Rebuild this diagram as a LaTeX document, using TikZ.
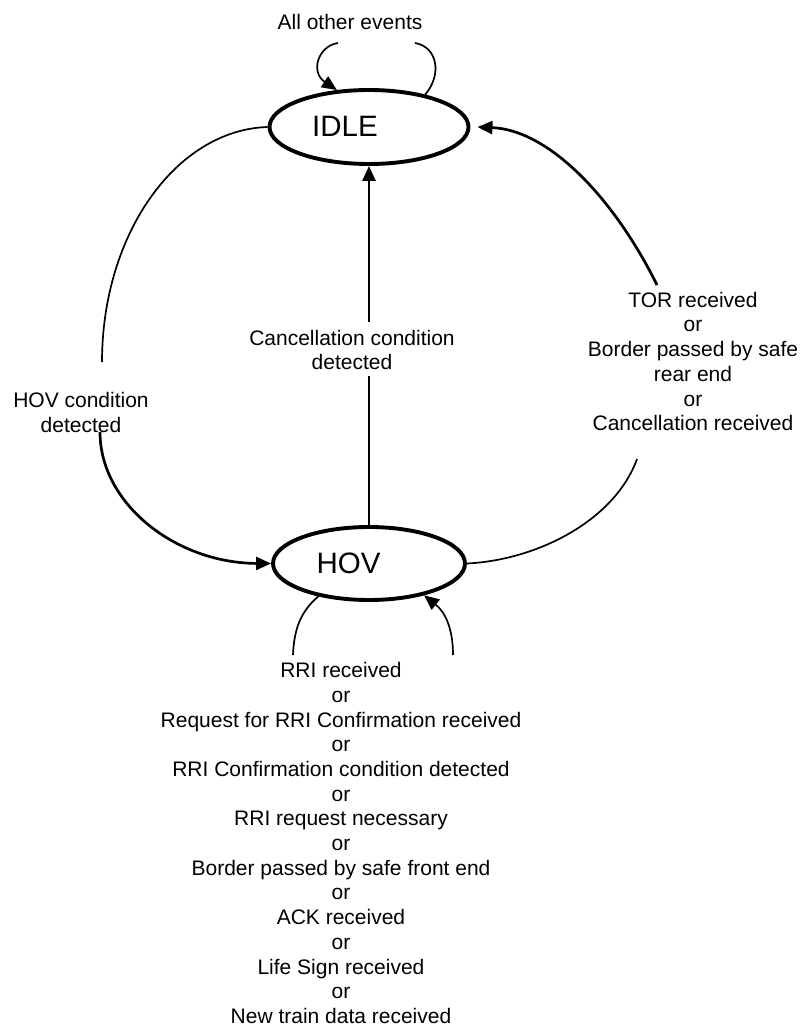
\documentclass[tikz,border=0pt]{standalone}
\usepackage{fontspec}
\setmainfont{Liberation Sans}
\usetikzlibrary{shapes.geometric,arrows.meta}
\begin{document}
\begin{tikzpicture}[x=1pt,y=-1pt,
  state/.style={ellipse,draw,line width=3.9pt,inner sep=0pt},
  big/.style={font=\fontsize{29.5}{34}\selectfont,inner sep=0pt},
  lbl/.style={font=\fontsize{21}{24.7}\selectfont,align=center,inner sep=0pt},
  thinline/.style={line width=1.7pt},
  thickline/.style={line width=2.7pt},
  tip/.style={-{Triangle[length=15pt,width=13pt]}},
]
\fill[white] (0,0) rectangle (802,1030);
\useasboundingbox (0,0) rectangle (802,1030);

% states
\node[state,minimum width=199pt,minimum height=74pt] (IDLE) at (369,127) {};
\node[big] (IDLEtext) at (345,126) {IDLE};
\node[state,minimum width=192pt,minimum height=73pt] (HOV) at (369,563.5) {};
\node[big] (HOVtext) at (348.5,563) {HOV};

% free ends of the connector pieces (gaps where labels sit)
\coordinate (t1) at (338,43);
\coordinate (t2) at (415,43);
\coordinate (a1) at (102,362);
\coordinate (a2) at (100,432);
\coordinate (b1) at (637,459);
\coordinate (b2) at (657,285);
\coordinate (v1) at (369,376);
\coordinate (v2) at (369,322);
\coordinate (l1) at (293,655);
\coordinate (r1) at (453,655);

% IDLE self loop
\draw[thinline,tip] (t1) .. controls (318,46) and (310,72) .. (IDLE.131);
\draw[thinline] (IDLE.30) .. controls (442,75) and (438,47) .. (t2);

% IDLE -> HOV (HOV condition detected)
\draw[thinline] (IDLE.west) .. controls (176,130) and (102,234) .. (a1);
\draw[thickline,tip] (a2) .. controls (100,504) and (176,563) .. (HOV.west);

% HOV -> IDLE (cancellation condition detected)
\draw[thickline] (HOV.north) -- (v1);
\draw[thickline,tip] (v2) -- (IDLE.south);

% HOV -> IDLE (TOR received ...)
\draw[thinline] (HOV.east) .. controls (538,560) and (615,520) .. (b1);
\draw[thickline,tip] (b2) .. controls (615,200) and (550,130) .. ([xshift=7pt]IDLE.east);

% HOV self loop
\draw[thinline] (HOV.-147) .. controls (300,612) and (294,630) .. (l1);
\draw[thinline,tip] (r1) .. controls (453,628) and (445,612) .. (HOV.-30);

% labels
\node[lbl] (Lall) at (350,22) {All other events};
\node[lbl] (Lcancel) at (352,350) {Cancellation condition\\detected};
\node[lbl] (Lhov) at (81,412.5) {HOV condition\\detected};
\node[lbl] (Ltor) at (693,361.5) {TOR received\\or\\Border passed by safe\\rear end\\or\\Cancellation received};
\node[lbl] (Lrri) at (341,843) {RRI received\\or\\Request for RRI Confirmation received\\or\\RRI Confirmation condition detected\\or\\RRI request necessary\\or\\Border passed by safe front end\\or\\ACK received\\or\\Life Sign received\\or\\New train data received};
\end{tikzpicture}
\end{document}
